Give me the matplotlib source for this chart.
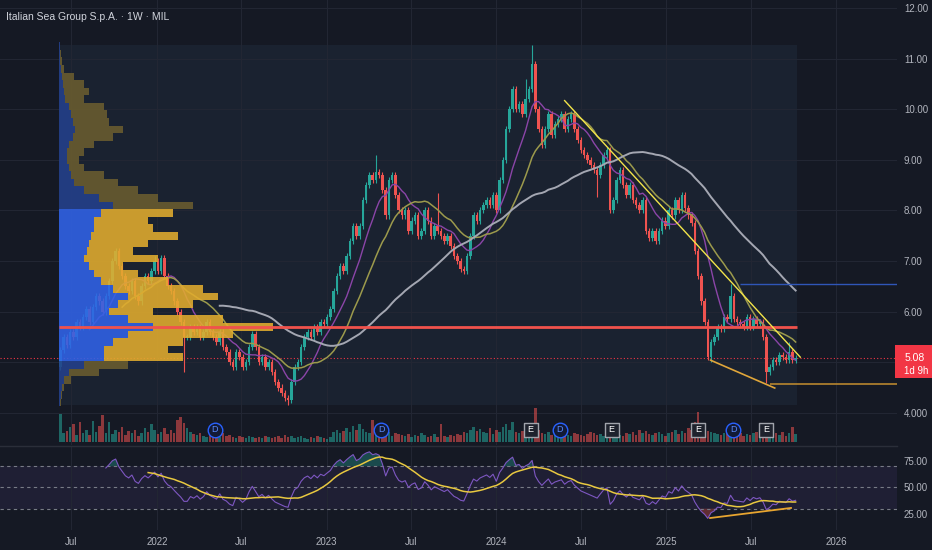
import matplotlib
matplotlib.use("Agg")
import matplotlib.pyplot as plt
import matplotlib.dates as mdates
import matplotlib.transforms as mtransforms
from matplotlib.patches import Rectangle
import numpy as np
import pandas as pd

# weekly closes, week of 2021-06-07 to week of 2025-10-06
closes = [5.25, 5.5, 5.35, 5.6, 5.5, 5.8, 5.7, 5.9, 6.05, 5.8, 6.1, 6.3, 6.2, 6.0,
          6.3, 6.6, 7.0, 7.2, 6.9, 6.7, 6.5,
          6.4, 6.6, 6.3, 6.2, 6.5, 6.7, 6.6, 6.8,
          7.0, 6.8, 7.05, 6.7, 6.5,
          6.4, 6.2, 6.0, 5.8, 5.5, 5.5, 5.7,
          5.6, 5.7, 5.5, 5.6, 5.8, 5.6, 5.5, 5.4, 5.6, 5.3, 5.2,
          5.0, 4.9, 5.2, 5.1, 4.9, 5.0, 5.3,
          5.55, 5.3, 5.0, 5.1,
          4.9, 5.0, 4.8, 4.6, 4.5, 4.4, 4.3, 4.25,
          4.6, 4.9, 5.0, 5.3, 5.5, 5.6, 5.5, 5.7, 5.6, 5.8, 5.75, 5.9,
          6.05, 6.4, 6.7, 6.9, 6.8, 7.1, 7.4, 7.7, 7.5, 7.7, 8.2, 8.5, 8.7, 8.6,
          8.75, 8.7, 8.4, 7.9, 8.6, 8.7, 8.3, 8.0, 7.9, 8.0, 7.6, 7.8, 7.9, 7.5,
          7.6, 8.0, 7.8, 7.5, 7.7, 7.6, 7.5, 7.4, 7.5, 7.3, 7.1, 7.0, 6.85, 6.8,
          7.1, 7.5, 7.9, 7.8, 8.0, 8.1, 8.2, 8.1, 8.3, 8.0,
          8.6, 9.0, 9.6, 10.0, 10.4, 10.0, 10.1, 9.9, 10.2, 10.4, 10.9, 10.0,
          9.6, 9.3, 9.6, 9.9, 9.5, 9.7, 9.8, 9.9, 9.6, 9.8, 9.9, 9.6, 9.4, 9.2,
          9.1, 9.0, 8.9, 8.8, 8.7, 8.9, 9.1, 9.2,
          8.0, 8.2, 8.6, 8.8, 8.5, 8.3, 8.5, 8.2, 8.1, 8.0, 8.2, 7.6, 7.45, 7.6,
          7.4, 7.6, 7.8, 7.7, 8.0, 7.9, 8.2, 8.0, 8.3, 8.05, 7.9, 7.75, 7.2, 6.7,
          6.2, 5.8, 5.1,
          5.4, 5.5, 5.7, 5.65, 5.9, 5.85, 6.3, 5.85, 5.8, 5.75, 5.7, 5.9, 5.7,
          5.85, 5.75, 5.8, 5.5, 4.8, 4.9, 5.05, 5.0, 5.15, 5.1, 5.05, 5.2, 5.05, 5.08]
first_open = 4.9
start_week = "2021-06-07"

# notable wicks (week index -> price)
wick_highs = {29: 7.1, 97: 9.1, 116: 8.34, 143: 10.6, 145: 11.27, 206: 6.55, 224: 5.4}
wick_lows = {38: 4.8, 70: 4.15, 165: 8.27, 200: 5.0, 217: 4.58}

volumes = [28, 9, 11, 15, 18, 7, 20, 9, 12, 7, 21, 10, 16, 27, 9, 20, 8, 12, 10, 15, 7, 11, 9, 12, 6, 9, 14, 10, 18, 12, 8,
           10, 14, 8, 12, 9, 22, 25, 19, 14, 10, 8, 7, 9, 6, 5, 8, 6, 7, 5, 9, 6, 7, 5, 4, 6, 5, 4, 6, 5, 4,
           5, 4, 6, 5, 4, 5, 6, 4, 7, 5, 6, 4, 5, 6, 4, 3, 5, 4, 6, 5, 4, 3, 5, 10, 12, 9, 11, 14, 10, 16,
           12, 18, 13, 10, 9, 22, 11, 9, 8, 7, 10, 6, 9, 8, 7, 6, 8, 5, 7, 6, 9, 7, 5, 6, 8, 5, 18, 6, 5, 7,
           6, 8, 7, 10, 9, 12, 15, 11, 13, 10, 9, 14, 8, 12, 10, 15, 18, 12, 20, 10, 9, 11, 8, 10, 9, 34, 12, 9, 8, 10,
           7, 9, 8, 6, 10, 7, 6, 9, 8, 7, 6, 8, 10, 9, 7, 8, 6, 12, 9, 11, 8, 7, 6, 9, 8, 10, 7, 12, 9, 11,
           8, 7, 9, 10, 8, 6, 9, 10, 12, 8, 11, 9, 14, 12, 20, 30, 16, 13, 11, 10, 9, 8, 7, 9, 12, 10, 8, 7, 9, 6,
           8, 7, 9, 10, 6, 12, 16, 11, 8, 9, 7, 10, 6, 9, 15, 8]

# volume profile rows (price centre, total volume, up volume)
vp_prices = [4.20, 4.35, 4.50, 4.65, 4.80, 4.95, 5.10, 5.25, 5.40, 5.55, 5.70, 5.85,
             6.00, 6.15, 6.30, 6.45, 6.60, 6.75, 6.90, 7.05, 7.20, 7.35, 7.50, 7.65,
             7.80, 7.95, 8.10, 8.25, 8.40, 8.55, 8.70, 8.85, 9.00, 9.15, 9.30, 9.45,
             9.60, 9.75, 9.90, 10.05, 10.20, 10.35, 10.50, 10.65, 10.80, 10.95, 11.10, 11.25]
vp_total = [2, 3, 5, 12, 40, 70, 125, 110, 125, 175, 215, 165,
            95, 135, 160, 145, 110, 80, 65, 100, 75, 90, 120, 95,
            90, 115, 135, 100, 80, 60, 45, 25, 20, 25, 35, 55,
            65, 50, 48, 45, 25, 30, 25, 15, 5, 3, 2, 1]
vp_up = [1, 2, 3, 5, 10, 25, 45, 45, 55, 70, 95, 70,
         50, 60, 70, 55, 42, 35, 30, 25, 28, 30, 32, 35,
         35, 42, 55, 40, 25, 15, 12, 10, 8, 8, 10, 14,
         16, 14, 12, 10, 6, 5, 4, 3, 2, 1, 1, 1]
vp_row = 0.15
value_area = (5.025, 8.025)
poc_price = 5.70

dividend_dates = ["2022-05-05", "2023-04-28", "2024-05-16", "2025-05-25"]
earnings_dates = ["2024-03-15", "2024-09-05", "2025-03-11", "2025-08-04"]

trend_upper = (["2024-05-27", "2025-10-16"], [10.17, 5.10])
trend_lower = (["2025-04-06", "2025-08-22"], [5.04, 4.49])
level_blue = ("2025-06-08", 6.55)
level_orange = ("2025-08-12", 4.56)
rsi_trend = (["2025-04-05", "2025-09-26"], [21.2, 30.7])

tick_dates = ["2021-07-01", "2022-01-01", "2022-07-01", "2023-01-01", "2023-07-01",
              "2024-01-01", "2024-07-01", "2025-01-01", "2025-07-01", "2026-01-01"]
tick_labels = ["Jul", "2022", "Jul", "2023", "Jul", "2024", "Jul", "2025", "Jul", "2026"]

BG = "#151924"
BOX = "#1a2230"
GRID = "#222633"
TXT = "#b2b5be"
UP = "#26a69a"
DOWN = "#ef5350"
FONT = ["Liberation Sans Narrow", "Liberation Sans", "DejaVu Sans"]

closes = np.array(closes)
dates = pd.date_range(start_week, periods=len(closes), freq="7D")
dn = mdates.date2num(dates)
opens = np.concatenate([[first_open], closes[:-1]])
highs = np.maximum(opens, closes) + 0.06
lows = np.minimum(opens, closes) - 0.06
for k, v in wick_highs.items():
    highs[k] = v
for k, v in wick_lows.items():
    lows[k] = v
up = closes >= opens
colors = np.where(up, UP, DOWN)


def rsi_wilder(c, n=14):
    d = np.diff(c)
    g = np.clip(d, 0, None)
    l = np.clip(-d, 0, None)
    out = np.full(len(c), np.nan)
    ag, al = g[:n].mean(), l[:n].mean()
    out[n] = 100 - 100 / (1 + ag / al)
    for k in range(n, len(d)):
        ag = (ag * (n - 1) + g[k]) / n
        al = (al * (n - 1) + l[k]) / n
        out[k + 1] = 100 - 100 / (1 + ag / al)
    return out


rsi = rsi_wilder(closes)
rsi_ma = pd.Series(rsi).rolling(14).mean().values
s = pd.Series(closes)
sma10 = s.rolling(10).mean().values
sma20 = s.rolling(20).mean().values
sma50 = s.rolling(50).mean().values

W, H = 932, 550
fig = plt.figure(figsize=(W / 100, H / 100), dpi=100)
fig.patch.set_facecolor(BG)
ax = fig.add_axes([0, (H - 445) / H, 897 / W, 445 / H])
rax = fig.add_axes([0, 20 / H, 897 / W, 83 / H], sharex=ax)

px_per_day = 0.4648
x0 = mdates.date2num(pd.Timestamp("2022-01-01")) - 157 / px_per_day
x1 = x0 + 897 / px_per_day

# volume on its own scale at the foot of the price pane
vax = ax.twinx()
vax.set_ylim(-3 / 34 * max(volumes), 442 / 34 * max(volumes))
vax.axis("off")

for a in (ax, rax):
    a.set_facecolor(BG)
    for sp in a.spines.values():
        sp.set_visible(False)
    a.set_xticks(mdates.date2num(pd.to_datetime(tick_dates)))
    a.grid(axis="x", color=GRID, lw=0.8, zorder=0)
    a.tick_params(length=0, colors=TXT, labelsize=7)
    a.yaxis.tick_right()
ax.set_xlim(x0, x1)
ax.set_ylim(3.364, 12.158)
ax.set_yticks(range(4, 13))
ax.set_yticklabels(["4.000", ""] + ["%.2f" % v for v in range(6, 13)], fontfamily=FONT)
ax.grid(axis="y", color=GRID, lw=0.8, zorder=0)
ax.tick_params(labelbottom=False, labelleft=False, labelright=True, pad=5)

# range box of the profile
half = 3.5
box_l, box_r = dn[0] - half, dn[-1] + half
ax.add_patch(Rectangle((box_l, lows.min()), box_r - box_l, highs.max() - lows.min(),
                       facecolor=BOX, edgecolor="none", zorder=0.5))

# candles
ax.vlines(dn, lows, highs, colors=colors, lw=0.8, zorder=2)
body = np.maximum(np.abs(closes - opens), 0.02)
ax.bar(dn, body, bottom=np.minimum(opens, closes), width=5.4, color=colors, zorder=2.1)

# moving averages
ax.plot(dn, sma10, color="#8b45a8", lw=1, zorder=2.5)
ax.plot(dn, sma20, color="#9c9a4c", lw=1.1, zorder=2.5)
ax.plot(dn, sma50, color="#a4a7b2", lw=1.4, zorder=2.5)

# volume profile
vp_prices = np.array(vp_prices)
vp_total = np.array(vp_total, float)
vp_up = np.array(vp_up, float)
scale = 0.29 * (box_r - box_l) / vp_total.max()
in_va = (vp_prices > value_area[0]) & (vp_prices < value_area[1])
up_c = ["#3063e8" if v else "#24408c" for v in in_va]
dn_c = ["#e3ad2e" if v else "#6a5d2f" for v in in_va]
for p, t, u, cu, cd in zip(vp_prices, vp_total, vp_up, up_c, dn_c):
    ax.barh(p, u * scale, left=box_l, height=vp_row, color=cu, alpha=0.88, lw=0, zorder=3)
    ax.barh(p, (t - u) * scale, left=box_l + u * scale, height=vp_row, color=cd,
            alpha=0.88, lw=0, zorder=3)
ax.hlines(poc_price, box_l, box_r, color="#f0524c", lw=2, zorder=4)

# drawings
last = closes[-1]
ax.axhline(last, color="#f23645", lw=0.8, ls=(0, (1, 2)), zorder=1.5)
ax.plot(pd.to_datetime(trend_upper[0]), trend_upper[1], color="#f2e44a", lw=1, zorder=4)
ax.plot(pd.to_datetime(trend_lower[0]), trend_lower[1], color="#e0a63a", lw=1.2, zorder=4)
ax.hlines(level_blue[1], mdates.date2num(pd.Timestamp(level_blue[0])), x1,
          color="#2f56b8", lw=1, zorder=4)
ax.hlines(level_orange[1], mdates.date2num(pd.Timestamp(level_orange[0])), x1,
          color="#b8862e", lw=1.2, zorder=4)

# last price label
tr = mtransforms.blended_transform_factory(ax.transAxes, ax.transData)
ax.add_patch(Rectangle((0.998, last - 0.39), 0.042, 0.65, transform=tr,
                       facecolor="#f23645", edgecolor="none", clip_on=False, zorder=6))
ax.text(1.008, last, "%.2f" % last, transform=tr, color="white", fontsize=7.5,
        va="center", ha="left", fontfamily=FONT, zorder=7, clip_on=False)
ax.text(1.008, last - 0.26, "1d 9h", transform=tr, color="white", fontsize=7,
        va="center", ha="left", fontfamily=FONT, zorder=7, clip_on=False)

# volume bars and event markers
vax.bar(dn, volumes, width=5.4, color=colors, alpha=0.55, lw=0)
etr = mtransforms.blended_transform_factory(vax.transData, vax.transAxes)
dd = mdates.date2num(pd.to_datetime(dividend_dates))
ed = mdates.date2num(pd.to_datetime(earnings_dates))
vax.scatter(dd, [0.034] * len(dd), s=110, marker="o", facecolor="#121a36",
            edgecolor="#2962ff", lw=1, transform=etr, zorder=5)
vax.scatter(ed, [0.034] * len(ed), s=100, marker="s", facecolor="#1e222d",
            edgecolor="#a0a3ab", lw=1, transform=etr, zorder=5)
for d in dd:
    vax.text(d, 0.034, "D", transform=etr, color="#5b8cff", fontsize=6.5,
             ha="center", va="center", zorder=6, fontfamily=FONT)
for d in ed:
    vax.text(d, 0.034, "E", transform=etr, color="white", fontsize=6.5,
             ha="center", va="center", zorder=6, fontfamily=FONT)

# RSI pane
rax.set_ylim(9.9, 88.2)
rax.set_yticks([25, 50, 75])
rax.set_yticklabels(["25.00", "50.00", "75.00"], fontfamily=FONT)
rax.tick_params(pad=5)
rax.set_xticklabels(tick_labels, fontfamily=FONT)
rax.axhspan(30, 70, color="#7e57c2", alpha=0.1, lw=0)
for lv in (30, 50, 70):
    rax.axhline(lv, color="#787b86", lw=0.8, ls=(0, (3, 3)))
rax.fill_between(dn, rsi, 70, where=rsi > 70, color="#26a69a", alpha=0.35, lw=0,
                 interpolate=True)
rax.fill_between(dn, rsi, 30, where=rsi < 30, color="#ef5350", alpha=0.35, lw=0,
                 interpolate=True)
rax.plot(dn, rsi, color="#7e57c2", lw=0.8)
rax.plot(dn, rsi_ma, color="#e8c840", lw=1.1)
rax.plot(pd.to_datetime(rsi_trend[0]), rsi_trend[1], color="#e8a530", lw=1.3)

fig.add_artist(plt.Line2D([0, 897 / W], [(H - 446) / H] * 2, color="#2a2e39", lw=1))
fig.text(6 / W, 1 - 17 / H, "Italian Sea Group S.p.A. · 1W · MIL", color="#d1d4dc",
         fontsize=7.5, va="center", ha="left", fontfamily=FONT)

fig.savefig("out.png", dpi=100, facecolor=BG)
